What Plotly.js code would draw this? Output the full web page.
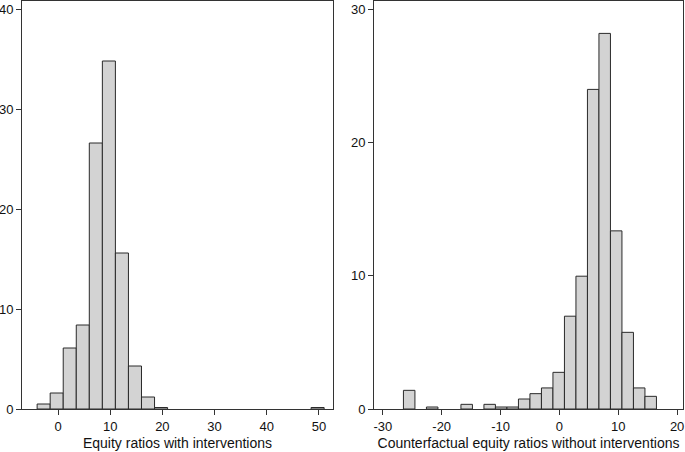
<!DOCTYPE html>
<html>
<head>
<meta charset="utf-8">
<script src="https://cdn.plot.ly/plotly-3.0.1.min.js"></script>
<style>
  html, body { margin: 0; padding: 0; background: #fff; }
  #chartDiv { width: 685px; height: 452px; }
</style>
</head>
<body>
<div id="chartDiv"></div>
<script>
// percent of banks per bin (null = empty bin)
const leftStart = -4;
const leftWidth = 2.5;
const leftPct = [0.5, 1.6, 6.1, 8.4, 26.6, 34.8, 15.6, 4.3, 1.2, 0.15,
  null, null, null, null, null, null, null, null, null, null, null, 0.15];

const rightStart = -26.5;
const rightWidth = 1.954;
const rightPct = [1.4, null, 0.15, null, null, 0.35, null, 0.35, 0.15, 0.15, 0.75, 1.15,
  1.58, 2.75, 6.96, 9.96, 23.97, 28.17, 13.36, 5.75, 1.58, 0.95];

const leftTicks = [0, 10, 20, 30, 40, 50];
const rightTicks = [-30, -20, -10, 0, 10, 20];
const leftYTicks = [0, 10, 20, 30, 40];
const rightYTicks = [0, 10, 20, 30];

const leftTitle = 'Equity ratios with interventions';
const rightTitle = 'Counterfactual equity ratios without interventions';

function centers(start, w, vals) {
  return vals.map((v, i) => start + (i + 0.5) * w);
}

const barStyle = {
  color: '#d3d3d3',
  line: { color: '#2a2a2a', width: 1 }
};

const trace1 = {
  type: 'bar',
  x: centers(leftStart, leftWidth, leftPct),
  y: leftPct,
  width: leftPct.map(() => leftWidth),
  marker: barStyle,
  xaxis: 'x',
  yaxis: 'y'
};
const trace2 = {
  type: 'bar',
  x: centers(rightStart, rightWidth, rightPct),
  y: rightPct,
  width: rightPct.map(() => rightWidth),
  marker: barStyle,
  xaxis: 'x2',
  yaxis: 'y2'
};

const axisBase = {
  showline: true,
  mirror: true,
  linecolor: '#333',
  linewidth: 1,
  ticks: 'outside',
  ticklen: 5,
  tickcolor: '#333',
  showgrid: false,
  zeroline: false,
  tickfont: { size: 13, color: '#111' }
};

const layout = {
  width: 685,
  height: 452,
  margin: { l: 0, r: 0, t: 1, b: 43 },
  paper_bgcolor: '#fff',
  plot_bgcolor: '#fff',
  font: { family: 'Liberation Sans, Arial, sans-serif', color: '#111' },
  showlegend: false,
  bargap: 0,
  xaxis: Object.assign({}, axisBase, {
    domain: [22 / 685, 333 / 685],
    range: [-6.9, 52.7],
    tickvals: leftTicks,
    ticktext: leftTicks.map(String),
    title: { text: leftTitle, font: { size: 14 }, standoff: 5 },
    anchor: 'y'
  }),
  yaxis: Object.assign({}, axisBase, {
    range: [0, 40.8],
    tickvals: leftYTicks,
    anchor: 'x'
  }),
  xaxis2: Object.assign({}, axisBase, {
    domain: [374 / 685, 683 / 685],
    range: [-31.5, 21.0],
    tickvals: rightTicks,
    ticktext: rightTicks.map(String),
    title: { text: rightTitle, font: { size: 14 }, standoff: 5 },
    anchor: 'y2'
  }),
  yaxis2: Object.assign({}, axisBase, {
    range: [0, 30.6],
    tickvals: rightYTicks,
    anchor: 'x2'
  })
};

Plotly.newPlot('chartDiv', [trace1, trace2], layout, { displayModeBar: false, staticPlot: true });
</script>
</body>
</html>
